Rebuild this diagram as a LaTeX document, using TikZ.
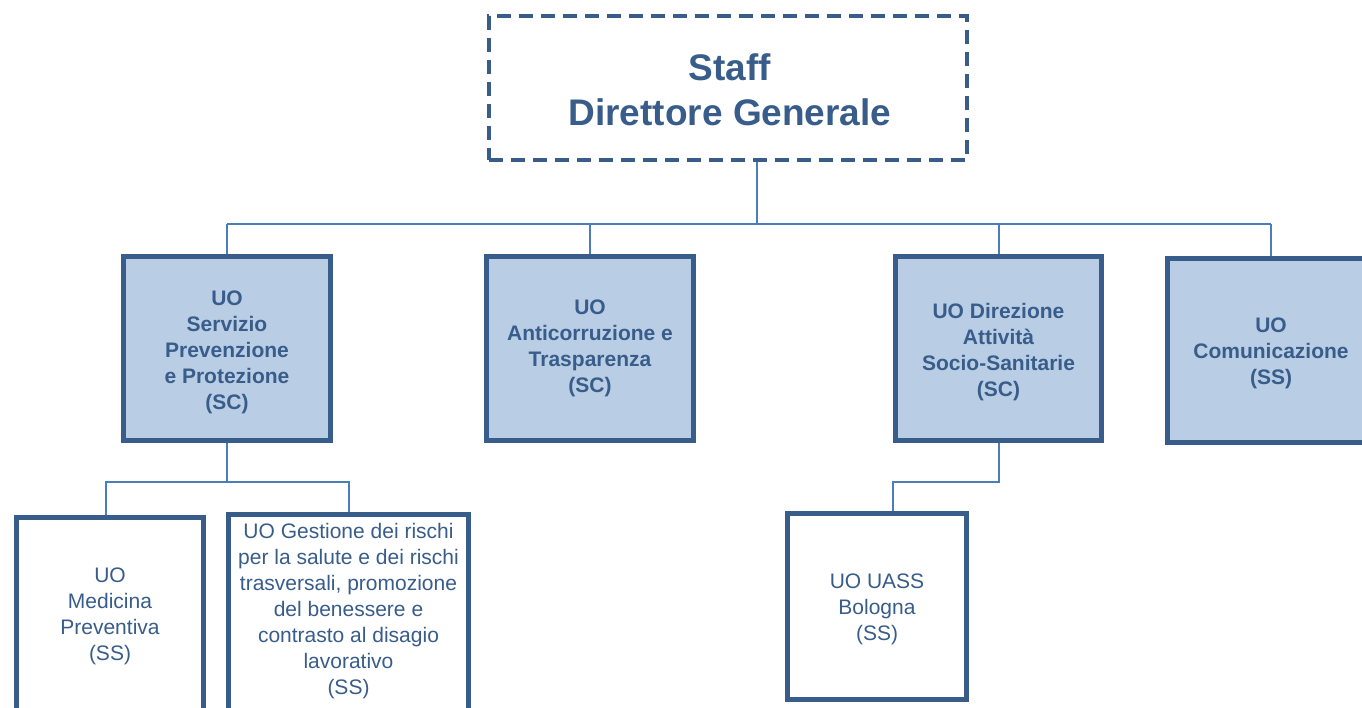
\documentclass[tikz,border=0pt]{standalone}
\usepackage{fontspec}
\setmainfont{Liberation Sans}
\definecolor{bordercol}{RGB}{56,93,138}
\definecolor{fillcol}{RGB}{185,205,229}
\definecolor{linecol}{RGB}{74,126,187}
\definecolor{textcol}{RGB}{56,93,138}
\begin{document}
\begin{tikzpicture}[x=1pt,y=-1pt,
  mainbox/.style={draw=bordercol, line width=5pt, fill=fillcol, rectangle,
    minimum width=207pt, minimum height=184pt, inner sep=0pt},
  subbox/.style={draw=bordercol, line width=5pt, fill=white, rectangle, inner sep=0pt},
  topbox/.style={draw=bordercol, line width=4pt, dash pattern=on 14pt off 8pt, rectangle,
    minimum width=478pt, minimum height=144pt, inner sep=0pt},
  toptxt/.style={text=textcol, font=\fontsize{37}{45}\selectfont\bfseries, align=center, inner sep=0pt},
  boldtxt/.style={text=textcol, font=\fontsize{21}{26}\selectfont\bfseries, align=center, inner sep=0pt},
  regtxt/.style={text=textcol, font=\fontsize{21}{26}\selectfont, align=center, inner sep=0pt},
  conn/.style={draw=linecol, line width=2pt}]
\useasboundingbox (0,0) rectangle (1362,708);
\clip (0,0) rectangle (1362,708);

% top staff box
\node[topbox] (top) at (728,88) {};
\node[toptxt] (ttop) at (730,90) {Staff\\Direttore Generale};

% first level
\node[mainbox] (b1) at (227,348.5) {};
\node[boldtxt] (t1) at (227,352.5) {UO\\Servizio\\Prevenzione\\e Protezione\\(SC)};
\node[mainbox] (b2) at (590,348.5) {};
\node[boldtxt] (t2) at (590,348.5) {UO\\Anticorruzione e\\Trasparenza\\(SC)};
\node[mainbox, minimum width=206pt] (b3) at (998.5,348.5) {};
\node[boldtxt] (t3) at (998.5,352.5) {UO Direzione\\Attività\\Socio-Sanitarie\\(SC)};
\node[mainbox] (b4) at (1271,350.5) {};
\node[boldtxt] (t4) at (1271,353.5) {UO\\Comunicazione\\(SS)};

% second level
\node[subbox, minimum width=187pt, minimum height=220pt, anchor=north] (b5) at (110,514.5) {};
\node[regtxt] (t5) at (110,616) {UO\\Medicina\\Preventiva\\(SS)};
\node[subbox, minimum width=240pt, minimum height=220pt, anchor=north] (b6) at (348.5,511.5) {};
\node[regtxt] (t6) at (348.5,611.5) {UO Gestione dei rischi\\per la salute e dei rischi\\trasversali, promozione\\del benessere e\\contrasto al disagio\\lavorativo\\(SS)};
\node[subbox, minimum width=179pt, minimum height=186pt] (b7) at (877,606.5) {};
\node[regtxt] (t7) at (877,609.5) {UO UASS\\Bologna\\(SS)};

% connectors: staff level
\coordinate (busL) at (227,224);
\coordinate (busR) at (1271,224);
\draw[conn] ([xshift=29pt]top.south) -- ([xshift=29pt]top.south |- busL);
\draw[conn] (b1.north |- busL) -- (b4.north |- busR);
\draw[conn] (b1.north) -- (b1.north |- busL);
\draw[conn] (b2.north) -- (b2.north |- busL);
\draw[conn] (b3.north) -- (b3.north |- busL);
\draw[conn] (b4.north) -- (b4.north |- busR);

% connectors: under b1
\coordinate (sub1) at (227,482);
\draw[conn] (b1.south) -- (b1.south |- sub1);
\draw[conn] ([xshift=-4pt]b5.north) |- (sub1) -| (b6.north);

% connectors: under b3
\draw[conn] (b3.south) |- ([xshift=16pt]b7.north |- sub1) -- ([xshift=16pt]b7.north);
\end{tikzpicture}
\end{document}
